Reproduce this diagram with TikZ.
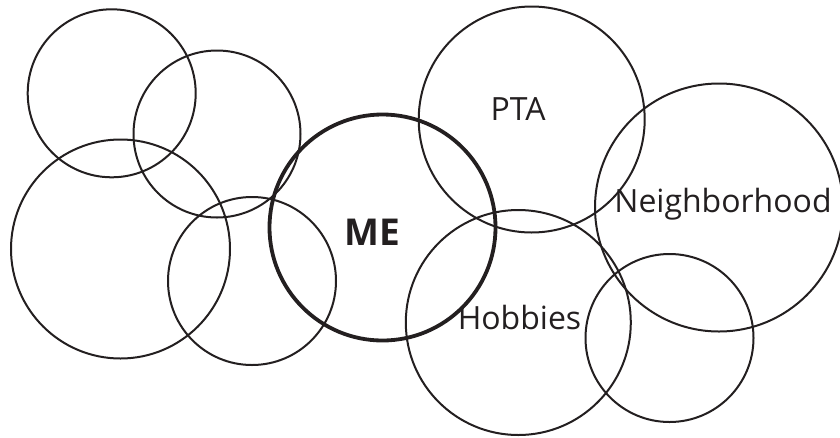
\documentclass[tikz,border=0pt]{standalone}
\usepackage{fontspec}
\setmainfont{Open Sans}
\definecolor{ink}{RGB}{35,31,32}
\tikzset{
  ring/.style={circle, draw=ink, line width=2pt, inner sep=0pt},
  tag/.style={text=ink, font=\fontsize{32}{36}\selectfont, inner sep=0pt}
}
\begin{document}
\begin{tikzpicture}[x=1pt, y=-1pt]
	\useasboundingbox (0,0) rectangle (840,437);
	  \foreach \name/\x/\y/\r in {c1/111.7/93.3/84, c2/217/134/83.5, c3/120.5/249/109.5, c4/252/281/84,
	    pta/531.7/119.5/113, nbh/719/207.5/124, hob/518.3/322.5/112.5, c9/669.5/338/84}{%
		\node[ring, minimum size=2*\r*1pt] (\name) at (\x,\y) {};
	  }
	\node[ring, line width=3.8pt, minimum size=226pt] (me) at (382.5,227.5) {};
	\node[tag, font=\fontsize{37}{40}\selectfont\bfseries] (me-text) at (372,232) {ME};
	\node[tag] (pta-text) at (518,109) {PTA};
	\node[tag] (nbh-text) at (723,204) {Neighborhood};
	\node[tag] (hob-text) at (519.5,317) {Hobbies};
\end{tikzpicture}
\end{document}
